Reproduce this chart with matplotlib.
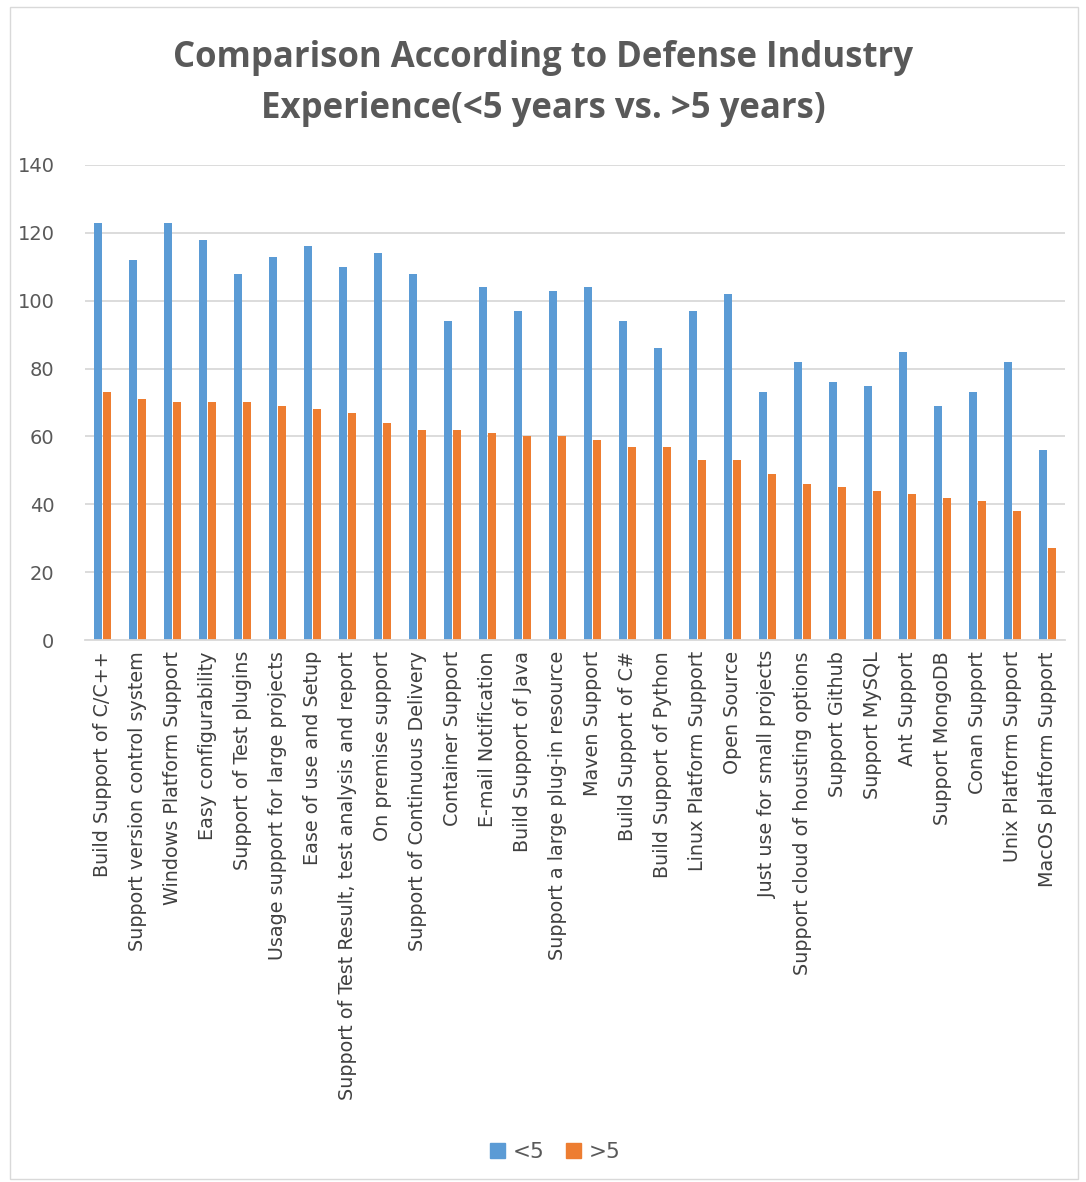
import numpy as np
import matplotlib.pyplot as plt
import matplotlib.patches as mpatches

features = ['Build Support of C/C++', 'Support version control system', 'Windows Platform Support',
            'Easy configurability', 'Support of Test plugins', 'Usage support for large projects',
            'Ease of use and Setup', 'Support of Test Result, test analysis and report',
            'On premise support', 'Support of Continuous Delivery', 'Container Support',
            'E-mail Notification', 'Build Support of Java', 'Support a large plug-in resource',
            'Maven Support', 'Build Support of C#', 'Build Support of Python', 'Linux Platform Support',
            'Open Source', 'Just use for small projects', 'Support cloud of housting options',
            'Support Github', 'Support MySQL', 'Ant Support', 'Support MongoDB', 'Conan Support',
            'Unix Platform Support', 'MacOS platform Support']
less5 = [123, 112, 123, 118, 108, 113, 116, 110, 114, 108, 94, 104, 97, 103,
         104, 94, 86, 97, 102, 73, 82, 76, 75, 85, 69, 73, 82, 56]
more5 = [73, 71, 70, 70, 70, 69, 68, 67, 64, 62, 62, 61, 60, 60,
         59, 57, 57, 53, 53, 49, 46, 45, 44, 43, 42, 41, 38, 27]

blue = '#5b9bd5'
orange = '#ed7d31'
grey = '#595959'

fig = plt.figure(figsize=(10.86, 11.82), dpi=100)
ax = fig.add_axes([85/1086, 1-640/1182, 980/1086, 475/1182])

x = np.arange(len(features))
w = 0.24
ax.bar(x - 0.135, less5, w, color=blue)
ax.bar(x + 0.135, more5, w, color=orange)

ax.set_xlim(-0.5, len(features) - 0.5)
ax.set_ylim(0, 140)
ax.set_yticks(range(0, 141, 20))
ax.yaxis.grid(True, color='#d9d9d9', linewidth=1.3)
ax.set_axisbelow(True)
for s in ['top', 'right', 'left']:
    ax.spines[s].set_visible(False)
ax.spines['bottom'].set_color('#d9d9d9')
ax.spines['bottom'].set_linewidth(1.3)
ax.tick_params(axis='y', length=0, labelsize=14, labelcolor=grey, pad=22)
ax.tick_params(axis='x', length=0, labelsize=13.8, labelcolor='#404040', pad=8)
ax.set_xticks(x)
ax.set_xticklabels(features, rotation=90)

fig.text(0.5, 1-58/1182, 'Comparison According to Defense Industry', ha='center', va='center',
         fontsize=25, fontweight='bold', color=grey, family='Open Sans')
fig.text(0.5, 1-109/1182, 'Experience(<5 years vs. >5 years)', ha='center', va='center',
         fontsize=25, fontweight='bold', color=grey, family='Open Sans')

handles = [mpatches.Patch(color=blue, label='<5'), mpatches.Patch(color=orange, label='>5')]
fig.legend(handles=handles, loc='center', bbox_to_anchor=(555/1086, 1-1152/1182), ncol=2,
           frameon=False, fontsize=15.5, labelcolor=grey, handlelength=0.7, handleheight=0.7,
           columnspacing=1.0, handletextpad=0.35)

fig.patches.append(mpatches.Rectangle((10/1086, 3/1182), 1068/1086, 1172/1182, transform=fig.transFigure,
                                      fill=False, edgecolor='#d9d9d9', linewidth=1))

fig.savefig('out.png', dpi=100)
